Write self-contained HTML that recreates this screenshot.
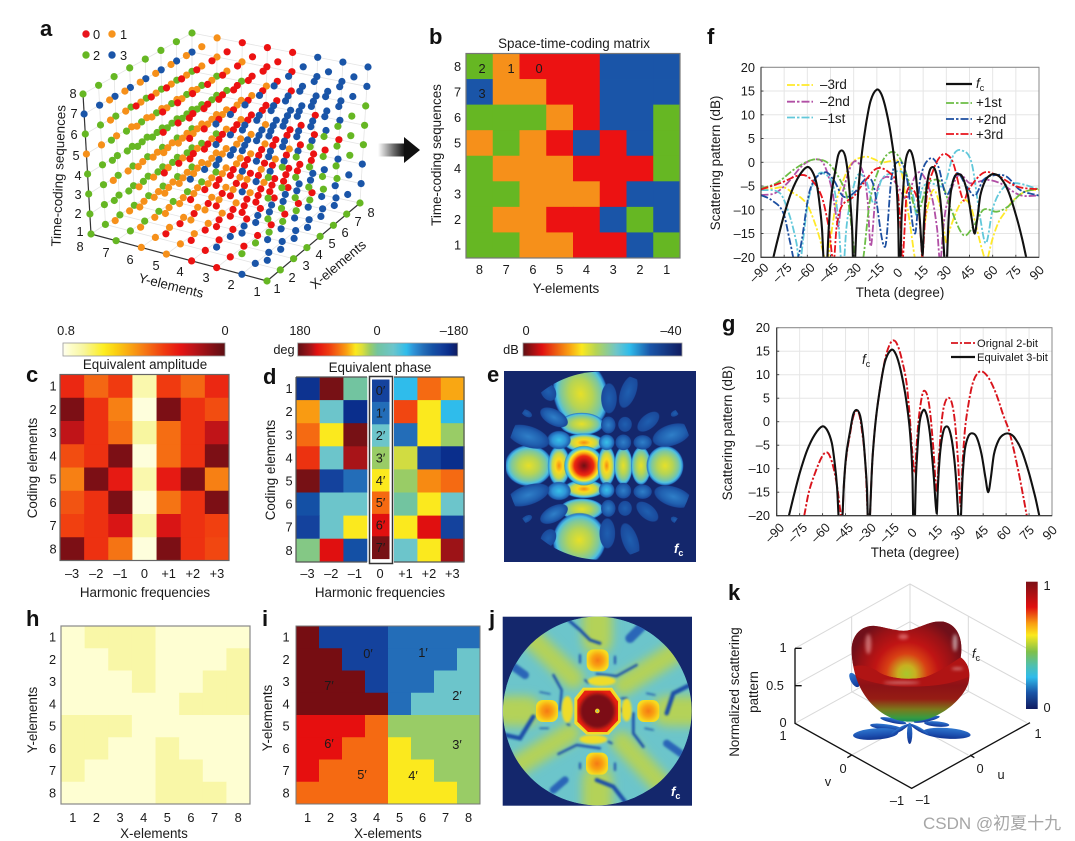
<!DOCTYPE html>
<html lang="en">
<head>
<meta charset="utf-8">
<title>Space-time-coding metasurface figure</title>
<style>
html,body{margin:0;padding:0;background:#fff;width:1075px;height:841px;overflow:hidden}
svg{display:block;font-family:"Liberation Sans","Noto Sans CJK SC",sans-serif;fill:#1a1a1a}
.t{font-size:13.4px}
.tk{font-size:12.8px}
.let{font-size:22px;font-weight:700;fill:#111}
.it{font-style:italic}
.wall{stroke:#d9d9d9;stroke-width:3;fill:none}
.ax3{stroke:#111;stroke-width:4;fill:none}
</style>
</head>
<body>
<svg id="figure" xmlns="http://www.w3.org/2000/svg" width="1075" height="841" viewBox="0 0 1075 841">
<defs>
  <clipPath id="clip-f"><rect x="761" y="67.3" width="278" height="190"/></clipPath>
  <clipPath id="clip-g"><rect x="776.7" y="327.7" width="275.3" height="188"/></clipPath>
  <clipPath id="clip-e"><circle cx="1020" cy="437" r="282"/></clipPath>
  <clipPath id="clip-j"><circle cx="322" cy="333" r="283"/></clipPath>
  <linearGradient id="arrow-grad" x1="0" x2="1" y1="0" y2="0"><stop offset="0" stop-color="#fff"/><stop offset=".6" stop-color="#666"/><stop offset="1" stop-color="#111"/></linearGradient>
  <linearGradient id="cb-db"><stop offset="0" stop-color="#5e0f14"/><stop offset=".12" stop-color="#e01010"/><stop offset=".29" stop-color="#f9a012"/><stop offset=".37" stop-color="#fbe91e"/><stop offset=".46" stop-color="#b5d455"/><stop offset=".59" stop-color="#6cc5cb"/><stop offset=".67" stop-color="#2fbceb"/><stop offset=".8" stop-color="#1a55a8"/><stop offset="1" stop-color="#101b60"/></linearGradient>
  <linearGradient id="cb-k" x1="0" x2="0" y1="0" y2="1"><stop offset="0" stop-color="#7c1016"/><stop offset=".2" stop-color="#e01010"/><stop offset=".33" stop-color="#f9a012"/><stop offset=".42" stop-color="#fbe91e"/><stop offset=".55" stop-color="#7fc04a"/><stop offset=".66" stop-color="#4fc0b0"/><stop offset=".75" stop-color="#2fbceb"/><stop offset=".87" stop-color="#1a55a8"/><stop offset="1" stop-color="#101b60"/></linearGradient>
  <radialGradient id="gRed"><stop offset="0" stop-color="#6f0f14"/><stop offset=".28" stop-color="#c41216"/><stop offset=".48" stop-color="#ee2a10"/><stop offset=".62" stop-color="#f9a012"/><stop offset=".74" stop-color="#fbe91e"/><stop offset=".85" stop-color="#6cc5cb"/><stop offset=".93" stop-color="#2fbceb"/><stop offset="1" stop-color="#1a55a8" stop-opacity=".3"/></radialGradient>
  <radialGradient id="gOrange"><stop offset="0" stop-color="#f58a14"/><stop offset=".32" stop-color="#fbd91e"/><stop offset=".6" stop-color="#c8d848"/><stop offset=".78" stop-color="#6cc5cb"/><stop offset=".9" stop-color="#2fa8e5"/><stop offset="1" stop-color="#1a55a8" stop-opacity=".3"/></radialGradient>
  <radialGradient id="gYellow"><stop offset="0" stop-color="#e6e028"/><stop offset=".42" stop-color="#b5d455"/><stop offset=".72" stop-color="#7cc8a0"/><stop offset=".86" stop-color="#4fc0e0"/><stop offset=".95" stop-color="#2a80cc"/><stop offset="1" stop-color="#1a55a8" stop-opacity=".3"/></radialGradient>
  <radialGradient id="gCyan"><stop offset="0" stop-color="#38c0e8"/><stop offset=".55" stop-color="#2f95d8"/><stop offset=".9" stop-color="#1f60b0"/><stop offset="1" stop-color="#1a4fa0" stop-opacity=".3"/></radialGradient>
  <radialGradient id="gBlue"><stop offset="0" stop-color="#2f7fc8"/><stop offset=".65" stop-color="#2060b0"/><stop offset=".94" stop-color="#1a4a9c"/><stop offset="1" stop-color="#17408f" stop-opacity=".4"/></radialGradient>
  <radialGradient id="gDeep"><stop offset="0" stop-color="#1f5fb0"/><stop offset=".92" stop-color="#1a4a9c"/><stop offset="1" stop-color="#17408f" stop-opacity=".4"/></radialGradient>
  <radialGradient id="gSquare" r=".72"><stop offset="0" stop-color="#f57a14"/><stop offset=".35" stop-color="#f9a012"/><stop offset=".68" stop-color="#f8d81e"/><stop offset=".88" stop-color="#e8e030"/><stop offset="1" stop-color="#b5d455"/></radialGradient>
  <filter id="blur-s" x="-30%" y="-30%" width="160%" height="160%"><feGaussianBlur stdDeviation="3.5"/></filter>
  <filter id="blur-m" x="-30%" y="-30%" width="160%" height="160%"><feGaussianBlur stdDeviation="15"/></filter>
  <filter id="blur-l" x="-30%" y="-30%" width="160%" height="160%"><feGaussianBlur stdDeviation="5"/></filter>
  <linearGradient id="k-body" gradientUnits="userSpaceOnUse" x1="0" x2="0" y1="300" y2="458"><stop offset="0" stop-color="#b01414"/><stop offset=".3" stop-color="#8c1216"/><stop offset=".55" stop-color="#951c14"/><stop offset=".75" stop-color="#7a7a1c"/><stop offset=".9" stop-color="#3a9a40"/><stop offset="1" stop-color="#0e8a60"/></linearGradient>
  <radialGradient id="k-inner" gradientUnits="userSpaceOnUse" cx="590" cy="312" r="175"><stop offset="0" stop-color="#a8c82c"/><stop offset=".15" stop-color="#c8b020"/><stop offset=".35" stop-color="#d84014"/><stop offset=".55" stop-color="#c01414"/><stop offset=".8" stop-color="#9a1216"/><stop offset="1" stop-color="#70101a"/></radialGradient>
  <linearGradient id="k-petal" x1="0" x2="0" y1="0" y2="1"><stop offset="0" stop-color="#2f78d0"/><stop offset=".6" stop-color="#1c50b0"/><stop offset="1" stop-color="#123490"/></linearGradient>
</defs>

<!-- Panel letters -->
<text class="let" x="40" y="36">a</text>
<text class="let" x="429" y="44">b</text>
<text class="let" x="26" y="382">c</text>
<text class="let" x="263" y="384">d</text>
<text class="let" x="487" y="382">e</text>
<text class="let" x="707" y="44">f</text>
<text class="let" x="722" y="331">g</text>
<text class="let" x="26" y="626">h</text>
<text class="let" x="262" y="626">i</text>
<text class="let" x="489" y="626">j</text>
<text class="let" x="728" y="600">k</text>

<!-- Panel a -->
<g id="panel-a">
  <g id="a-walls"></g>
  <g id="a-axes" stroke="#333" stroke-width="1.2">
    <line x1="91" y1="234" x2="83" y2="94"/>
    <line x1="91" y1="234" x2="267" y2="281"/>
    <line x1="267" y1="281" x2="360" y2="203"/>
  </g>
  <g id="a-dots"></g>
  <g>
    <circle cx="86" cy="34" r="3.7" fill="#e8141c"/><text class="tk" x="93" y="39">0</text>
    <circle cx="112" cy="34" r="3.7" fill="#f7941d"/><text class="tk" x="120" y="39">1</text>
    <circle cx="86" cy="55" r="3.7" fill="#66b723"/><text class="tk" x="93" y="60">2</text>
    <circle cx="112" cy="55" r="3.7" fill="#1a55a8"/><text class="tk" x="120" y="60">3</text>
  </g>
  <g class="tk" text-anchor="middle">
    <text x="73" y="98">8</text><text x="74" y="118">7</text><text x="74" y="139">6</text><text x="76" y="160">5</text><text x="78" y="180">4</text><text x="78" y="199">3</text><text x="78" y="218">2</text><text x="80" y="236">1</text>
    <text x="80" y="251">8</text><text x="106" y="257">7</text><text x="130" y="264">6</text><text x="156" y="270">5</text><text x="180" y="276">4</text><text x="206" y="282">3</text><text x="231" y="289">2</text><text x="257" y="296">1</text>
    <text x="277" y="293">1</text><text x="292" y="282">2</text><text x="306" y="270">3</text><text x="319" y="259">4</text><text x="332" y="248">5</text><text x="345" y="237">6</text><text x="358" y="226">7</text><text x="371" y="217">8</text>
  </g>
  <text class="t" text-anchor="middle" transform="translate(63,176) rotate(-88)">Time-coding sequences</text>
  <text class="t" text-anchor="middle" transform="translate(170,290) rotate(14)">Y-elements</text>
  <text class="t" text-anchor="middle" transform="translate(341,268) rotate(-40)">X-elements</text>
</g>

<!-- Arrow -->
<g>
  <rect x="378" y="143.5" width="27" height="13" fill="url(#arrow-grad)"/>
  <polygon points="404,137 420,150 404,163" fill="#111"/>
</g>

<!-- Panel b -->
<g id="panel-b">
  <text class="t" x="574" y="48" text-anchor="middle">Space-time-coding matrix</text>
  <g id="heat-b"></g>
  <rect x="466" y="53.5" width="214" height="204.5" fill="none" stroke="#777" stroke-width="1.2"/>
  <text class="tk" x="482" y="73" text-anchor="middle">2</text>
  <text class="tk" x="511" y="73" text-anchor="middle">1</text>
  <text class="tk" x="539" y="73" text-anchor="middle">0</text>
  <text class="tk" x="482" y="98" text-anchor="middle">3</text>
  <text class="t" x="566" y="293" text-anchor="middle">Y-elements</text>
  <text class="t" text-anchor="middle" transform="translate(441,155) rotate(-90)">Time-coding sequences</text>
</g>

<!-- Panel f -->
<g id="panel-f">
  <g id="f-grid"></g>
  <g id="f-lines" clip-path="url(#clip-f)"></g>
  <rect x="761" y="67.3" width="278" height="190" fill="none" stroke="#888" stroke-width="1"/>
  <path d="M761 67.3V257.3H1039" fill="none" stroke="#333" stroke-width="1.1"/>
  <text class="t" x="900" y="297" text-anchor="middle">Theta (degree)</text>
  <text class="t" text-anchor="middle" transform="translate(720,163) rotate(-90)">Scattering pattern (dB)</text>
  <g stroke-width="1.8" fill="none" stroke-dasharray="8 2 2.5 2">
    <line x1="787" y1="85" x2="813" y2="85" stroke="#ffe92a"/>
    <line x1="787" y1="101.7" x2="813" y2="101.7" stroke="#b14fa5"/>
    <line x1="787" y1="117.5" x2="813" y2="117.5" stroke="#62c8da"/>
    <line x1="946" y1="84" x2="972" y2="84" stroke="#111" stroke-width="2.2" stroke-dasharray="none"/>
    <line x1="946" y1="103" x2="972" y2="103" stroke="#6cbd45"/>
    <line x1="946" y1="119" x2="972" y2="119" stroke="#1c4fa0"/>
    <line x1="946" y1="134" x2="972" y2="134" stroke="#e8141c"/>
  </g>
  <text class="t" x="820" y="89">–3rd</text>
  <text class="t" x="820" y="106">–2nd</text>
  <text class="t" x="820" y="123">–1st</text>
  <text class="t" x="976" y="88"><tspan class="it">f</tspan><tspan font-size="9" dy="3">c</tspan></text>
  <text class="t" x="976" y="107">+1st</text>
  <text class="t" x="976" y="124">+2nd</text>
  <text class="t" x="976" y="139">+3rd</text>
</g>

<!-- Panel g -->
<g id="panel-g">
  <g id="g-grid"></g>
  <g id="g-lines" clip-path="url(#clip-g)"></g>
  <rect x="776.7" y="327.7" width="275.3" height="188" fill="none" stroke="#888" stroke-width="1"/>
  <path d="M776.7 327.7V515.7H1052" fill="none" stroke="#333" stroke-width="1.1"/>
  <text class="t" x="915" y="557" text-anchor="middle">Theta (degree)</text>
  <text class="t" text-anchor="middle" transform="translate(732,433) rotate(-90)">Scattering pattern (dB)</text>
  <line x1="951" y1="343" x2="975" y2="343" stroke="#d8141c" stroke-width="1.8" stroke-dasharray="7 2 2 2"/>
  <line x1="951" y1="357" x2="975" y2="357" stroke="#111" stroke-width="2.2"/>
  <text x="977" y="347" font-size="11.2">Orignal 2-bit</text>
  <text x="977" y="361" font-size="11.2">Equivalet 3-bit</text>
  <text class="t" x="862" y="364"><tspan class="it">f</tspan><tspan font-size="9" dy="3">c</tspan></text>
</g>

<!-- Panel c -->
<g id="panel-c">
  <rect x="63" y="343" width="162" height="13" fill="url(#cb-amp)" stroke="#999" stroke-width=".8"/>
  <text class="tk" x="66" y="335" text-anchor="middle">0.8</text>
  <text class="tk" x="225" y="335" text-anchor="middle">0</text>
  <text class="t" x="145" y="369" text-anchor="middle">Equivalent amplitude</text>
  <g id="heat-c"></g>
  <rect x="60" y="374.5" width="169" height="186" fill="none" stroke="#666" stroke-width="1.2"/>
  <text class="t" x="145" y="597" text-anchor="middle">Harmonic frequencies</text>
  <text class="t" text-anchor="middle" transform="translate(37,468) rotate(-90)">Coding elements</text>
</g>

<!-- Panel d -->
<g id="panel-d">
  <rect x="297.7" y="343" width="160" height="13" fill="url(#cb-phase)" stroke="#999" stroke-width=".8"/>
  <text class="tk" x="284" y="354" text-anchor="middle">deg</text>
  <text class="tk" x="300" y="335" text-anchor="middle">180</text>
  <text class="tk" x="377" y="335" text-anchor="middle">0</text>
  <text class="tk" x="454" y="335" text-anchor="middle">–180</text>
  <text class="t" x="380" y="372" text-anchor="middle">Equivalent phase</text>
  <rect x="369.5" y="376.5" width="23" height="187" fill="#fff" stroke="#333" stroke-width="1.5"/>
  <g id="heat-d"></g>
  <path d="M296 377H367M394 377H464V562H394M367 562H296V377" fill="none" stroke="#555" stroke-width="1.2"/>
  <text class="t" x="380" y="597" text-anchor="middle">Harmonic frequencies</text>
  <text class="t" text-anchor="middle" transform="translate(275,470) rotate(-90)">Coding elements</text>
</g>

<!-- dB colorbar -->
<g>
  <rect x="523" y="343" width="159" height="13" fill="url(#cb-db)" stroke="#999" stroke-width=".8"/>
  <text class="tk" x="511" y="354" text-anchor="middle">dB</text>
  <text class="tk" x="526" y="335" text-anchor="middle">0</text>
  <text class="tk" x="671" y="335" text-anchor="middle">–40</text>
</g>

<!-- Panel e -->
<g>
  <rect x="504" y="371" width="192" height="191" fill="#14276c"/>
  <g transform="translate(260,320) scale(.33333)">
    <g clip-path="url(#clip-e)">
      <ellipse cx="962" cy="222" rx="82" ry="108" transform="rotate(-15 962 222)" fill="url(#gYellow)"/>
      <ellipse cx="965" cy="312" rx="66" ry="34" fill="url(#gYellow)"/>
      <ellipse cx="972" cy="368" rx="62" ry="28" fill="url(#gOrange)"/>
      <ellipse cx="972" cy="507" rx="62" ry="28" fill="url(#gOrange)"/>
      <ellipse cx="965" cy="568" rx="66" ry="33" fill="url(#gYellow)"/>
      <ellipse cx="958" cy="660" rx="80" ry="82" transform="rotate(15 958 660)" fill="url(#gYellow)"/>
      <ellipse cx="806" cy="437" rx="72" ry="62" fill="url(#gYellow)"/>
      <ellipse cx="897" cy="437" rx="34" ry="62" fill="url(#gOrange)"/>
      <ellipse cx="972" cy="437" rx="60" ry="60" fill="url(#gRed)"/>
      <ellipse cx="1040" cy="437" rx="28" ry="62" fill="url(#gOrange)"/>
      <ellipse cx="1090" cy="437" rx="28" ry="58" fill="url(#gYellow)"/>
      <ellipse cx="1143" cy="437" rx="30" ry="58" fill="url(#gYellow)"/>
      <ellipse cx="1215" cy="437" rx="56" ry="60" fill="url(#gYellow)"/>
      <ellipse cx="897" cy="360" rx="36" ry="28" fill="url(#gCyan)"/>
      <ellipse cx="897" cy="513" rx="36" ry="28" fill="url(#gCyan)"/>
      <ellipse cx="1040" cy="367" rx="24" ry="24" fill="url(#gCyan)"/>
      <ellipse cx="1040" cy="510" rx="24" ry="24" fill="url(#gCyan)"/>
      <ellipse cx="1090" cy="367" rx="24" ry="24" fill="url(#gBlue)"/>
      <ellipse cx="1090" cy="512" rx="24" ry="24" fill="url(#gBlue)"/>
      <ellipse cx="1148" cy="367" rx="28" ry="22" fill="url(#gBlue)"/>
      <ellipse cx="1148" cy="515" rx="28" ry="22" fill="url(#gBlue)"/>
      <ellipse cx="1235" cy="345" rx="60" ry="32" transform="rotate(-18 1235 345)" fill="url(#gBlue)"/>
      <ellipse cx="1240" cy="530" rx="60" ry="30" transform="rotate(18 1240 530)" fill="url(#gBlue)"/>
      <ellipse cx="805" cy="350" rx="66" ry="32" transform="rotate(18 805 350)" fill="url(#gBlue)"/>
      <ellipse cx="805" cy="525" rx="66" ry="30" transform="rotate(-18 805 525)" fill="url(#gBlue)"/>
      <ellipse cx="882" cy="292" rx="46" ry="24" transform="rotate(28 882 292)" fill="url(#gBlue)"/>
      <ellipse cx="882" cy="582" rx="46" ry="24" transform="rotate(-28 882 582)" fill="url(#gBlue)"/>
      <ellipse cx="1045" cy="315" rx="22" ry="26" fill="url(#gBlue)"/>
      <ellipse cx="1095" cy="313" rx="21" ry="23" fill="url(#gDeep)"/>
      <ellipse cx="1045" cy="565" rx="22" ry="26" fill="url(#gBlue)"/>
      <ellipse cx="1095" cy="565" rx="21" ry="23" fill="url(#gDeep)"/>
      <ellipse cx="1165" cy="305" rx="40" ry="22" transform="rotate(-40 1165 305)" fill="url(#gDeep)"/>
      <ellipse cx="1162" cy="575" rx="40" ry="22" transform="rotate(40 1162 575)" fill="url(#gDeep)"/>
      <ellipse cx="1047" cy="235" rx="24" ry="46" fill="url(#gDeep)"/>
      <ellipse cx="1105" cy="215" rx="24" ry="52" transform="rotate(20 1105 215)" fill="url(#gDeep)"/>
      <ellipse cx="1042" cy="640" rx="24" ry="46" fill="url(#gDeep)"/>
      <ellipse cx="1110" cy="660" rx="24" ry="54" transform="rotate(-20 1110 660)" fill="url(#gDeep)"/>
      <ellipse cx="865" cy="215" rx="22" ry="30" transform="rotate(-30 865 215)" fill="url(#gDeep)"/>
      <ellipse cx="865" cy="655" rx="22" ry="30" transform="rotate(30 865 655)" fill="url(#gDeep)"/>
      <ellipse cx="800" cy="280" rx="18" ry="10" transform="rotate(30 800 280)" fill="url(#gDeep)"/>
      <ellipse cx="800" cy="597" rx="18" ry="10" transform="rotate(-30 800 597)" fill="url(#gDeep)"/>
      <ellipse cx="1245" cy="280" rx="14" ry="9" transform="rotate(-30 1245 280)" fill="url(#gDeep)"/>
      <ellipse cx="1245" cy="600" rx="14" ry="9" transform="rotate(30 1245 600)" fill="url(#gDeep)"/>
    </g>
  </g>
  <text x="674" y="553" fill="#fff" font-size="13" font-weight="700" style="fill:#fff"><tspan class="it">f</tspan><tspan font-size="9" dy="3">c</tspan></text>
</g>

<!-- Panel h -->
<g id="panel-h">
  <g id="heat-h"></g>
  <rect x="61" y="626" width="189" height="178" fill="none" stroke="#888" stroke-width="1.2"/>
  <text class="t" x="154" y="838" text-anchor="middle">X-elements</text>
  <text class="t" text-anchor="middle" transform="translate(37,720) rotate(-90)">Y-elements</text>
</g>

<!-- Panel i -->
<g id="panel-i">
  <g id="heat-i"></g>
  <rect x="296" y="626" width="184" height="178" fill="none" stroke="#777" stroke-width="1"/>
  <g class="tk" text-anchor="middle">
    <text x="368" y="658">0′</text>
    <text x="423" y="657">1′</text>
    <text x="457" y="700">2′</text>
    <text x="457" y="749">3′</text>
    <text x="413" y="780">4′</text>
    <text x="362" y="779">5′</text>
    <text x="329" y="748">6′</text>
    <text x="329" y="690">7′</text>
  </g>
  <text class="t" x="388" y="838" text-anchor="middle">X-elements</text>
  <text class="t" text-anchor="middle" transform="translate(272,718) rotate(-90)">Y-elements</text>
</g>

<!-- Panel j -->
<g>
  <rect x="502.7" y="616.7" width="189.3" height="189" fill="#14276c"/>
  <g transform="translate(490,600) scale(.33333)">
    <g clip-path="url(#clip-j)">
      <circle cx="322" cy="333" r="283" fill="#6cc5cb"/>
      <g fill="none" stroke="#b4d258" stroke-linecap="round" filter="url(#blur-m)">
        <path d="M322 40V120" stroke-width="90"/>
        <path d="M322 540V620" stroke-width="90"/>
        <path d="M50 333H110" stroke-width="90"/>
        <path d="M530 333H610" stroke-width="90"/>
        <path d="M110 100L250 235" stroke-width="62"/>
        <path d="M400 255L550 160" stroke-width="62"/>
        <path d="M85 495L240 400" stroke-width="62"/>
        <path d="M395 425L515 555" stroke-width="62"/>
      </g>
      <g fill="none" stroke="#1a4fa8" stroke-linecap="round" filter="url(#blur-s)">
        <path d="M235 60L270 90L300 120L330 130" stroke-width="9"/>
        <path d="M420 115L470 65" stroke-width="28" stroke="#2a66b8"/>
        <path d="M320 222L380 228L440 195" stroke-width="7"/>
        <path d="M190 225L215 270L210 330" stroke-width="7"/>
        <path d="M270 165V188M375 170V190M270 490V505M375 490V510" stroke-width="6"/>
        <path d="M150 276L180 282M470 280L495 285M150 385L175 385M465 385L490 390" stroke-width="4"/>
        <path d="M70 200L105 225" stroke-width="24" stroke="#2a66b8"/>
        <path d="M45 405L90 415L130 350" stroke-width="13"/>
        <path d="M530 340L550 280L600 255" stroke-width="13"/>
        <path d="M430 340L430 400L460 440" stroke-width="8"/>
        <path d="M205 462L260 435L330 445" stroke-width="7"/>
        <path d="M320 540L370 560L405 605" stroke-width="12"/>
        <path d="M530 430L575 462" stroke-width="22" stroke="#2a66b8"/>
        <path d="M190 570L225 540" stroke-width="22" stroke="#2a66b8"/>
        <path d="M285 240L295 248M395 295L410 295M395 325V335M232 372L238 375M355 425L365 430" stroke-width="6"/>
      </g>
      <g filter="url(#blur-s)" fill="#eedc2c">
        <ellipse cx="232" cy="328" rx="17" ry="40"/>
        <ellipse cx="410" cy="330" rx="15" ry="34"/>
        <ellipse cx="335" cy="243" rx="42" ry="15"/>
        <ellipse cx="310" cy="418" rx="42" ry="14"/>
      </g>
      <rect x="290" y="148" width="66" height="66" rx="20" fill="url(#gSquare)"/>
      <rect x="288" y="458" width="66" height="66" rx="20" fill="url(#gSquare)"/>
      <rect x="138" y="300" width="66" height="66" rx="20" fill="url(#gSquare)"/>
      <rect x="442" y="300" width="66" height="66" rx="20" fill="url(#gSquare)"/>
      <polygon points="280,265 365,265 390,300 390,365 355,402 290,402 255,370 255,295" fill="#f2d820" stroke="#f4dc30" stroke-width="4"/>
      <polygon points="284,272 360,272 384,304 384,361 351,396 294,396 262,365 262,300" fill="#e62212"/>
      <circle cx="322" cy="333" r="53" fill="#7c0f15" filter="url(#blur-l)"/>
      <circle cx="322" cy="333" r="7" fill="#f0d020"/>
      <circle cx="322" cy="333" r="2.5" fill="#6cc5cb"/>
    </g>
  </g>
  <text x="671" y="796" font-size="13" font-weight="700" style="fill:#fff"><tspan class="it">f</tspan><tspan font-size="9" dy="3">c</tspan></text>
</g>

<!-- Panel k -->
<g>
  <g transform="translate(710,570) scale(.33333)">
    <g>
      <path class="wall" d="M255 235L600 42L950 235M600 42V270M255 460L600 270L950 458M255 345L600 155L950 345M425 140V365M775 140V365M425 555L775 365M775 555L425 365"/>
    </g>
    <g fill="url(#k-petal)">
      <ellipse cx="433" cy="330" rx="11" ry="24" transform="rotate(-30 433 330)"/>
      <ellipse cx="550" cy="452" rx="40" ry="7" transform="rotate(12 550 452)"/>
      <ellipse cx="650" cy="448" rx="40" ry="7" transform="rotate(-12 650 448)"/>
      <ellipse cx="530" cy="472" rx="50" ry="9" transform="rotate(8 530 472)"/>
      <ellipse cx="680" cy="462" rx="38" ry="8" transform="rotate(5 680 462)"/>
      <ellipse cx="497" cy="492" rx="68" ry="17" transform="rotate(-4 497 492)"/>
      <ellipse cx="710" cy="490" rx="72" ry="16" transform="rotate(4 710 490)"/>
      <ellipse cx="599" cy="490" rx="8" ry="32"/>
      <ellipse cx="628" cy="478" rx="30" ry="6" transform="rotate(30 628 478)"/>
      <ellipse cx="570" cy="478" rx="30" ry="6" transform="rotate(-30 570 478)"/>
    </g>
    <path d="M425 240C425 190 460 165 495 168C530 172 560 185 590 182C630 175 660 150 700 155C745 165 760 210 752 262C770 275 785 300 775 340C760 385 690 455 600 455C520 455 465 390 445 340C432 310 425 270 425 240Z" fill="url(#k-body)"/>
    <path d="M425 240C425 190 460 165 495 168C530 172 560 185 590 182C630 175 660 150 700 155C745 165 760 210 752 262C735 272 700 300 650 320C610 332 530 328 500 302C475 288 452 282 431 290C427 275 425 258 425 240Z" fill="url(#k-inner)"/>
    <path d="M431 290C452 282 475 288 500 302C530 328 610 332 650 320C700 300 735 272 752 262C768 272 780 295 777 320C730 340 680 350 600 350C530 350 470 335 440 320Z" fill="#b01414"/>
    <g fill="#fff" opacity=".55" filter="url(#blur-l)">
      <ellipse cx="475" cy="222" rx="9" ry="30" fill="#f8b0b0"/>
      <ellipse cx="580" cy="200" rx="15" ry="8" fill="#f8a0a0"/>
      <ellipse cx="735" cy="218" rx="7" ry="26"/>
      <ellipse cx="575" cy="338" rx="55" ry="3"/>
      <ellipse cx="742" cy="296" rx="18" ry="3"/>
    </g>
    <g class="ax3">
      <path d="M255 235V460L605 655L960 458" class="ax3"/>
      <path d="M255 235H275M255 347H275M425 555L412 563M780 555L793 563" class="ax3" stroke-width="3"/>
    </g>
  </g>
  <g class="tk" text-anchor="middle">
    <text x="783" y="652">1</text>
    <text x="775" y="690">0.5</text>
    <text x="783" y="727">0</text>
    <text x="783" y="740">1</text>
    <text x="843" y="773">0</text>
    <text x="828" y="786">v</text>
    <text x="897" y="805">–1</text>
    <text x="923" y="804">–1</text>
    <text x="980" y="773">0</text>
    <text x="1001" y="779">u</text>
    <text x="1038" y="738">1</text>
    <text x="976" y="658"><tspan class="it">f</tspan><tspan font-size="9" dy="3">c</tspan></text>
  </g>
  <text class="t" text-anchor="middle" transform="translate(739,692) rotate(-90)">Normalized scattering</text>
  <text class="t" text-anchor="middle" transform="translate(758,692) rotate(-90)">pattern</text>
  <rect x="1026" y="581.7" width="11.7" height="127.3" fill="url(#cb-k)"/>
  <text class="tk" x="1047" y="590" text-anchor="middle">1</text>
  <text class="tk" x="1047" y="712" text-anchor="middle">0</text>
</g>

<text x="923" y="829" font-size="17" style="fill:#a6a6a6;font-family:'Liberation Sans','Noto Sans CJK SC',sans-serif">CSDN @初夏十九</text>
</svg>

<script>
// ---------- Panel b / a : coding matrix (rows: time 8..1, columns: Y 8..1)
const codingMatrix = [
  [2,1,0,0,0,3,3,3],
  [3,1,1,0,0,3,3,3],
  [2,2,2,1,0,3,3,2],
  [1,2,1,0,3,0,3,2],
  [2,1,1,1,0,0,0,2],
  [2,2,1,1,1,0,3,3],
  [2,1,1,0,0,3,2,3],
  [2,2,1,1,0,0,3,2]
];
const codeColors = ['#ec1212','#f6901a','#66b723','#1a55a8'];
const elementTicksReversed = ['8','7','6','5','4','3','2','1'];
const elementTicks = ['1','2','3','4','5','6','7','8'];
const harmonicTicks = ['–3','–2','–1','0','+1','+2','+3'];

// ---------- Panel c : equivalent amplitude
const amplitudeValues = [
  [.26,.37,.30,.72,.30,.37,.26],
  [.05,.28,.41,.78,.05,.28,.33],
  [.16,.28,.38,.70,.38,.28,.16],
  [.33,.28,.05,.78,.38,.28,.05],
  [.41,.05,.23,.72,.23,.05,.41],
  [.34,.28,.05,.78,.39,.28,.05],
  [.31,.28,.20,.71,.20,.28,.31],
  [.05,.28,.39,.78,.05,.28,.32]
];
const ampStopValues = [0,.05,.16,.22,.3,.4,.46,.54,.6,.7,.76,.8];
const ampStopColors = ['#5e0f14','#7c0f15','#c01418','#e51513','#f03a10','#f67a14','#f9a012','#fbd011','#fdee21','#f8f6a0','#fdfdc8','#fffff0'];

// ---------- Panel d : equivalent phase (degrees)
const phaseValues = [
  [-155,170,0,-140,-65,90,68],
  [72,-35,-160,-103,105,50,-65],
  [90,50,170,-35,-103,50,17],
  [115,-35,150,17,32,-140,-160],
  [170,-140,-103,50,17,78,90],
  [-125,-35,-35,90,0,50,-35],
  [-140,-35,50,137,50,137,-140],
  [8,137,-125,170,-35,50,155]
];
const phaseMidLabels = ['0′','1′','2′','3′','4′','5′','6′','7′'];
const phaseStopValues = [-180,-160,-140,-125,-103,-80,-65,-35,0,17,35,50,70,90,110,137,150,180];
const phaseStopColors = ['#101b60','#0a2e8c','#14429d','#1450a5','#236db8','#2f95d8','#2fbceb','#6cc5cb','#72c4a0','#99cc66','#dcdf3a','#fbe91e','#f9a012','#f56a12','#ef3a10','#e01010','#a81418','#5e0f14'];

// ---------- Panel h : element amplitude
const elementAmplitude = [
  [.77,.71,.71,.71,.77,.77,.77,.77],
  [.77,.77,.71,.71,.77,.77,.77,.71],
  [.77,.77,.77,.71,.77,.77,.71,.71],
  [.77,.77,.77,.77,.77,.71,.71,.71],
  [.71,.71,.71,.77,.77,.77,.77,.77],
  [.71,.71,.77,.77,.71,.77,.77,.77],
  [.71,.77,.77,.77,.71,.71,.77,.77],
  [.77,.77,.77,.77,.71,.71,.71,.77]
];

// ---------- Panel i : element phase level (0'..7')
const elementPhaseLevel = [
  [7,0,0,0,1,1,1,1],
  [7,7,0,0,1,1,1,2],
  [7,7,7,0,1,1,2,2],
  [7,7,7,7,1,2,2,2],
  [6,6,6,5,3,3,3,3],
  [6,6,5,5,4,3,3,3],
  [6,5,5,5,4,4,3,3],
  [5,5,5,5,4,4,4,3]
];
const phaseLevelColors = ['#14429d','#236db8','#6cc5cb','#99cc66','#fbe91e','#f56a12','#e60f0f','#760d12'];

// ---------- Panels f, g : axis ticks
const thetaTicks = [-90,-75,-60,-45,-30,-15,0,15,30,45,60,75,90];
const dbTicks = [-20,-15,-10,-5,0,5,10,15,20];

// ---------- f_c pattern (null splits lobes)
const fcTheta = [-82,-79,-75,-70,-65,-60.2,-57,-54,-52,-50.5,-49.6,null,-47,-46,-44.5,-42,-40,-37.7,-35.5,-33.5,-32,-31,-30.5,null,-29,-28,-27,-25,-22,-19,-15,-12,-9,-6,-3.5,-2,-1.2,-0.8,null,0.4,1,2,3.5,5.9,8,10,11.5,12.8,14.6,15.5,17,19,21,23,25,27,28.7,null,30.5,31.5,33,35.5,38.5,41,44,46.5,48.3,50,52,55,58,61.4,65,70,75,79,81.7];
const fcDb = [-20,-16,-11,-6,-2.7,-1,-1.8,-4.5,-9,-14,-20,null,-20,-13,-7,-2,1.5,2.5,1.3,-3,-9,-14,-20,null,-20,-12,-6,1,8,13,15.3,14.3,11,6,0,-6,-12,-20,null,-20,-12,-6,0,2.5,1.5,-2,-7,-12,-19.5,-13,-6,-2,-1,-1.8,-5,-11,-20,null,-20,-12,-6,-3,-2.5,-3.5,-7,-12,-15,-12,-7,-4,-2.8,-2.5,-3.2,-6,-11,-16,-20];

// ---------- Panel f harmonics
const minus3Theta = [-90,-82,-75,-69,-64,-60,-56,-52,-49,-47.5,-46.5,-44,-41,-37,-33,-29,-25,-21.5,-17,-12,-7,-2,1,4,6.5,9.5,11.5,14,16,19,21.5,24,27,30,31.5,34,37,40,43,46,49,52,54.5,56,57,60,64,68,72,77,82,90];
const minus3Db = [-5.8,-5.5,-5.3,-6.5,-7.5,-9,-12,-16,-20,-22,-20,-14,-8,-4,-1,0.5,1,1.2,0.7,0,0.2,0.5,-2,-8,-13,-20,-23,-20,-13,-8,-5.8,-7,-11,-17,-15,-12.5,-10,-8.3,-8,-9.5,-13,-17,-20,-22,-20,-16,-12.5,-10.5,-8.5,-7,-6,-5.8];
const minus2Theta = [-90,-81,-73,-62.6,-55,-49.6,-44,-41.5,-40,-38.5,-36.7,-30,-23.7,-21,-19,-16,-12,-5.4,0,4.3,9.7,14,20.5,24,26,28,30,37.8,45.3,56,64.8,77.7,90];
const minus2Db = [-6.9,-6.5,-4.4,-0.5,0.6,-0.2,-5.8,-11,-13.5,-10,-5.8,0.1,-2.3,-8,-17.7,-8,-3.7,-3.4,-5.8,-7.6,-3,-2.3,-7.2,-14,-21,-14,-9.3,-2.7,-4.4,-3.7,-4.4,-6.9,-7];
const minus1Theta = [-90,-77.7,-72,-67,-65,-63,-59.4,-54,-49.6,-43,-40,-37.8,-36.5,-35,-33.5,-28,-22.2,-17,-12,-5.4,2.2,8.6,10.8,14,19.4,27,30,34.5,40,46.4,51.8,55.7,60.4,68,75.6,90];
const minus1Db = [-5.8,-6.5,-10.7,-17,-22,-17,-8,-3,-2.3,-5.1,-12,-22,-22,-15,-10.7,-3,-3.7,-8.6,-3.7,-2.3,-2.3,-7.2,-11.4,-5.8,-4.4,-5.1,-3.7,1.5,2.5,-0.2,-11.4,-17,-9.3,-5,-4.4,-5.7];
const plus1Theta = [-90,-80,-69,-60.4,-54,-46.4,-38.8,-33.4,-29,-26,-23.7,-19.4,-12,-5.4,0,5.4,8.6,11.9,17.3,21.6,27,32.4,41,47.5,54,62.6,70,78.8,90];
const plus1Db = [-5.5,-4.4,-1.6,0.1,0.6,-0.2,-3.7,-8.6,-20,-23,-20,-8,-0.2,2.2,0.8,-3.7,-8.6,-10.4,-5,-3.7,-4.4,-9.3,-15.3,-13.5,-10,-10.4,-9.3,-6.5,-5.5];
const plus2Theta = [-90,-83,-75.5,-71,-68,-64.5,-58.3,-48.6,-43,-36.7,-30,-21.6,-17,-9.7,-5.4,0,4.3,9.7,13,19.4,24.8,30,36.7,43,48.6,54,61.5,69,77.7,90];
const plus2Db = [-6.9,-8,-10.7,-17,-21,-18,-5.8,-2.1,-3.7,-7.2,-6.5,-3.4,-5,-17.8,-3,0.1,-3,-15,-3.7,0.8,-0.9,-6.9,-2.3,-5,-7,-3.7,-2.7,-3,-5.8,-7];
const plus3Theta = [-90,-77.7,-64.7,-58.3,-50.7,-46,-43,-41,-37.8,-30,-23.7,-15,-6.5,-2,0.5,1.5,3,4.3,8.6,12,13.5,14.5,17.3,21.6,26,30,34.5,41,44.2,54,62.6,75.6,90];
const plus3Db = [-5.7,-4.4,-2.7,-3.4,-7.2,-14,-21,-13.5,-9.3,-7.2,-4.4,-1.3,-2.3,-5.1,-14,-21,-14,-6.5,-5.8,-9.3,-16,-20,-7.2,-1.6,1.2,1.7,-0.2,-8,-5.8,-2.2,-2.7,-5.1,-5.7];

// ---------- Panel g
const orig2bitTheta = [-72,-69,-65,-60.5,-57.5,-55,-52,-50,-48,null,-47,-46,-44.5,-42,-40,-38,-36,-34,-32,-30.5,null,-29,-28,-27,-25,-22,-19,-16,-13.5,-11,-8,-5,-3,-1.5,0.4,1.5,3,5,6.5,8.5,10.5,12.5,14.6,16,18,20,22.2,24.5,26.5,28.5,30.3,31.5,33,35,38,41,44,47,50,54,58,62,65,68,71,73.5];
const orig2bitDb = [-20,-15,-11,-7.5,-6.5,-7.5,-11,-15,-20,null,-20,-13,-7.5,-2.5,1,2.3,1.5,-2.5,-9,-20,null,-20,-12,-6,1,8,13.5,16.5,17.3,16.3,13,8,1,-6,-11,-5,1,5.5,6.6,5.5,1.5,-6,-15,-8,0.5,4,5.1,4,0,-8,-18,-9,-2,3,8,10.2,10.7,10,8.5,5.5,1.5,-2,-6,-10.5,-15.5,-20];

// ---------- Helpers
const SVGNS = 'http://www.w3.org/2000/svg';
const svgRoot = document.getElementById('figure');
function el(tag, attrs, parent){
  const n = document.createElementNS(SVGNS, tag);
  for (const k in attrs) n.setAttribute(k, attrs[k]);
  if (parent) parent.appendChild(n);
  return n;
}
function byId(id){ return document.getElementById(id); }
function hexRgb(h){ return [parseInt(h.slice(1,3),16),parseInt(h.slice(3,5),16),parseInt(h.slice(5,7),16)]; }
function ramp(stopsV, stopsC, v){
  if (v <= stopsV[0]) return stopsC[0];
  for (let i = 1; i < stopsV.length; i++){
    if (v <= stopsV[i]){
      const t = (v - stopsV[i-1]) / (stopsV[i] - stopsV[i-1]);
      const a = hexRgb(stopsC[i-1]), b = hexRgb(stopsC[i]);
      return 'rgb(' + a.map((c,j) => Math.round(c + (b[j]-c)*t)).join(',') + ')';
    }
  }
  return stopsC[stopsC.length-1];
}
function buildColorbar(id, stopsV, stopsC, vLeft, vRight){
  const lg = el('linearGradient', {id:id}, svgRoot.querySelector('defs'));
  const order = stopsV.map((v,i)=>({o:(v-vLeft)/(vRight-vLeft),c:stopsC[i]})).sort((a,b)=>a.o-b.o);
  order.forEach(s => el('stop', {offset:s.o,'stop-color':s.c}, lg));
}
buildColorbar('cb-amp', ampStopValues, ampStopColors, 0.8, 0);
buildColorbar('cb-phase', phaseStopValues, phaseStopColors, 180, -180);

function tickText(parent, x, y, s, anchor){
  const t = el('text', {x:x, y:y, 'text-anchor':anchor||'middle', 'class':'tk'}, parent);
  t.textContent = s;
  return t;
}
function drawHeatmap(groupId, rows, x0, y0, cw, ch, colorOf){
  const g = byId(groupId);
  rows.forEach((row,r) => row.forEach((v,c) => {
    const cell = el('rect', {x:x0+c*cw, y:y0+r*ch, width:cw+.4, height:ch+.4, fill:colorOf(v)}, g);
    
    
  }));
}
function rowColLabels(groupId, rowLabels, colLabels, xRow, y0, ch, x0, cw, yCol){
  const g = byId(groupId);
  rowLabels.forEach((s,i) => {
    const t = tickText(g, xRow, y0 + (i+.5)*ch + 4.5, s, 'middle');
    
    
  });
  colLabels.forEach((s,i) => {
    const t = tickText(g, x0 + (i+.5)*cw, yCol, s, 'middle');
    
    
  });
}

// ---------- Panel a : cube scatter. Corner projection, trilinear on (x, y, t) in 1..8
function cube(x, y, t){
  const u = (x-1)/7, v = (8-y)/7, w = (t-1)/7;   // v: 0 at Y=8, 1 at Y=1
  const c = [
    [[91,234],[267,281]],   // X1,T1
    [[83,94],[269,136]],    // X1,T8
    [[192,167],[360,203]],  // X8,T1
    [[192,33],[368,67]]     // X8,T8
  ];
  const lerp = (a,b,f) => [a[0]+(b[0]-a[0])*f, a[1]+(b[1]-a[1])*f];
  const a = lerp(lerp(c[0][0],c[0][1],v), lerp(c[1][0],c[1][1],v), w);
  const b = lerp(lerp(c[2][0],c[2][1],v), lerp(c[3][0],c[3][1],v), w);
  return lerp(a,b,u);
}
const wallGroup = byId('a-walls');
function wallLine(p, q){
  const l = el('line', {x1:p[0],y1:p[1],x2:q[0],y2:q[1],stroke:'#e4e4e4','stroke-width':.8}, wallGroup);
  
  
}
for (let i = 1; i <= 8; i++){
  wallLine(cube(i,8,1), cube(i,8,8));
  wallLine(cube(8,i,1), cube(8,i,8));
  wallLine(cube(1,8,i), cube(8,8,i));
  wallLine(cube(8,1,i), cube(8,8,i));
  wallLine(cube(1,i,1), cube(8,i,1));
  wallLine(cube(i,1,1), cube(i,8,1));
}
const dotGroup = byId('a-dots');
for (let x = 8; x >= 1; x--){
  for (let y = 8; y >= 1; y--){
    for (let t = 1; t <= 8; t++){
      const p = cube(x,y,t);
      const code = codingMatrix[8-t][8-y];
      const d = el('circle', {cx:p[0].toFixed(1), cy:p[1].toFixed(1), r:3.6, fill:codeColors[code]}, dotGroup);
      
      
    }
  }
}

// ---------- Heatmaps
drawHeatmap('heat-b', codingMatrix, 466, 53.5, 26.75, 25.56, v => codeColors[v]);
rowColLabels('panel-b', elementTicksReversed, elementTicksReversed, 457.5, 53.5, 25.56, 466, 26.75, 274);

drawHeatmap('heat-c', amplitudeValues, 60, 374.5, 24.14, 23.25, v => ramp(ampStopValues, ampStopColors, v));
rowColLabels('panel-c', elementTicks, harmonicTicks, 53, 374.5, 23.25, 60, 24.14, 578);

// panel d has a gutter around the central column
const heatD = byId('heat-d');
function dCellX(c){ return c < 3 ? 296 + c*23.7 : 394 + (c-4)*23.4; }
phaseValues.forEach((row,r) => row.forEach((v,c) => {
  const isMid = c === 3;
  const cell = el('rect', {
    x: isMid ? 372 : dCellX(c),
    y: isMid ? 379.5 + r*22.4 : 377 + r*23.1,
    width: isMid ? 17.5 : 23.9,
    height: isMid ? 22.8 : 23.5,
    fill: ramp(phaseStopValues, phaseStopColors, v)
  }, heatD);
  
  
}));
phaseMidLabels.forEach((s,r) => {
  const t = tickText(heatD, 380.5, 379.5 + (r+.5)*22.4 + 4.5, s, 'middle');
  
  
});
const dGroup = byId('panel-d');
elementTicks.forEach((s,i) => {
  const t = tickText(dGroup, 289, 377 + (i+.5)*23.1 + 4.5, s, 'middle');
  
  
});
harmonicTicks.forEach((s,i) => {
  const cx = i === 3 ? 380 : dCellX(i) + 11.5;
  const t = tickText(dGroup, cx, 578, s, 'middle');
  
  
});

drawHeatmap('heat-h', elementAmplitude, 61, 626, 23.63, 22.25, v => ramp(ampStopValues, ampStopColors, v));
rowColLabels('panel-h', elementTicks, elementTicks, 52.5, 626, 22.25, 61, 23.63, 822);

drawHeatmap('heat-i', elementPhaseLevel, 296, 626, 23, 22.25, v => phaseLevelColors[v]);
rowColLabels('panel-i', elementTicks, elementTicks, 286, 626, 22.25, 296, 23, 822);

// ---------- Line charts
function makeAxes(xL, xR, yT, yB){
  return {
    x: th => xL + (th + 90) * (xR - xL) / 180,
    y: db => yB - (db + 20) * (yB - yT) / 40,
    xL, xR, yT, yB
  };
}
const axF = makeAxes(761, 1039, 67.3, 257.3);
const axG = makeAxes(776.7, 1052, 327.7, 515.7);

function drawGrid(ax, gridId, parentId, yLabelX, xLabelY){
  const g = byId(gridId), par = byId(parentId);
  thetaTicks.forEach(th => {
    const X = ax.x(th);
    const l = el('line', {x1:X,x2:X,y1:ax.yT,y2:ax.yB,stroke:'#e6e6e6','stroke-width':1}, g);
    
    
    const m = el('line', {x1:X,x2:X,y1:ax.yB,y2:ax.yB-2.5,stroke:'#333','stroke-width':.9}, g);
    
    
    const s = (th < 0 ? '–' + (-th) : String(th));
    const lx = X - 2;
    const t = el('text', {x:lx, y:xLabelY, 'text-anchor':'middle', 'class':'tk', transform:'rotate(-45 ' + lx + ' ' + (xLabelY-4) + ')'}, par);
    t.textContent = s;
    
    
  });
  dbTicks.forEach(db => {
    const Y = ax.y(db);
    const l = el('line', {x1:ax.xL,x2:ax.xR,y1:Y,y2:Y,stroke:'#e6e6e6','stroke-width':1}, g);
    
    
    const m = el('line', {x1:ax.xL,x2:ax.xL+2.5,y1:Y,y2:Y,stroke:'#333','stroke-width':.9}, g);
    
    
    const s = (db < 0 ? '–' + (-db) : String(db));
    const t = tickText(par, yLabelX, Y + 4.5, s, 'end');
    
    
  });
}
drawGrid(axF, 'f-grid', 'panel-f', 755, 277);
drawGrid(axG, 'g-grid', 'panel-g', 770, 537);

// Hermite curve through the read points; null entries break the line
function linePath(ax, xs, ys){
  let d = '', seg = [];
  const flush = () => {
    if (seg.length < 2){ seg = []; return; }
    const m = seg.map((p,i) => {
      const a = seg[Math.max(0,i-1)], b = seg[Math.min(seg.length-1,i+1)];
      return (b[1]-a[1]) / (b[0]-a[0]);
    });
    d += 'M' + ax.x(seg[0][0]).toFixed(1) + ' ' + ax.y(seg[0][1]).toFixed(1);
    for (let i = 0; i < seg.length-1; i++){
      const h = (seg[i+1][0]-seg[i][0]) / 3;
      d += 'C' + ax.x(seg[i][0]+h).toFixed(1) + ' ' + ax.y(seg[i][1]+m[i]*h).toFixed(1) + ' ' +
           ax.x(seg[i+1][0]-h).toFixed(1) + ' ' + ax.y(seg[i+1][1]-m[i+1]*h).toFixed(1) + ' ' +
           ax.x(seg[i+1][0]).toFixed(1) + ' ' + ax.y(seg[i+1][1]).toFixed(1);
    }
    seg = [];
  };
  xs.forEach((x,i) => {
    if (x === null || ys[i] === null) flush();
    else seg.push([x, ys[i]]);
  });
  flush();
  return d;
}
const DASH = '7.5 2 2.2 2';

const lineMinus3 = el('path', {d:linePath(axF, minus3Theta, minus3Db), fill:'none', stroke:'#ffe92a', 'stroke-width':1.8, 'stroke-dasharray':DASH}, byId('f-lines'));


const lineMinus2 = el('path', {d:linePath(axF, minus2Theta, minus2Db), fill:'none', stroke:'#b14fa5', 'stroke-width':1.8, 'stroke-dasharray':DASH}, byId('f-lines'));


const lineMinus1 = el('path', {d:linePath(axF, minus1Theta, minus1Db), fill:'none', stroke:'#62c8da', 'stroke-width':1.8, 'stroke-dasharray':DASH}, byId('f-lines'));


const linePlus1 = el('path', {d:linePath(axF, plus1Theta, plus1Db), fill:'none', stroke:'#6cbd45', 'stroke-width':1.8, 'stroke-dasharray':DASH}, byId('f-lines'));


const linePlus2 = el('path', {d:linePath(axF, plus2Theta, plus2Db), fill:'none', stroke:'#1c4fa0', 'stroke-width':1.8, 'stroke-dasharray':DASH}, byId('f-lines'));


const linePlus3 = el('path', {d:linePath(axF, plus3Theta, plus3Db), fill:'none', stroke:'#e8141c', 'stroke-width':1.8, 'stroke-dasharray':DASH}, byId('f-lines'));


const lineFcF = el('path', {d:linePath(axF, fcTheta, fcDb), fill:'none', stroke:'#111', 'stroke-width':2.1}, byId('f-lines'));



const line2bit = el('path', {d:linePath(axG, orig2bitTheta, orig2bitDb), fill:'none', stroke:'#d8141c', 'stroke-width':1.9, 'stroke-dasharray':DASH}, byId('g-lines'));


const line3bit = el('path', {d:linePath(axG, fcTheta, fcDb), fill:'none', stroke:'#111', 'stroke-width':2.1}, byId('g-lines'));


</script>
</body>
</html>
